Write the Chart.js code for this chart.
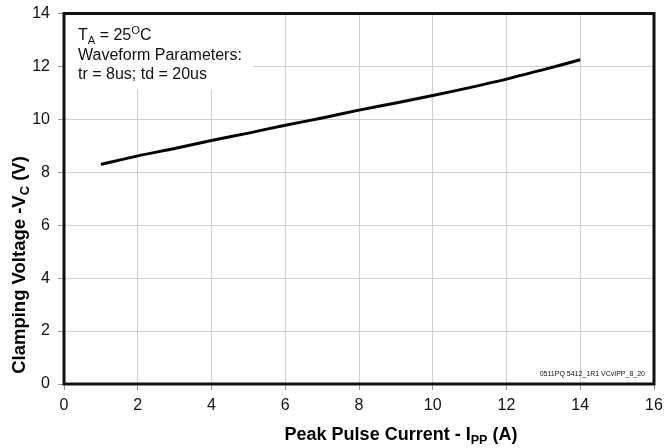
<!DOCTYPE html>
<html lang="en">
<head>
    <meta charset="UTF-8">
    <title>Clamping Voltage vs Peak Pulse Current</title>
    <style>
        body { margin: 0; background: #fff; font-family: Arial, "Liberation Sans", sans-serif; }
        .container { width: 665px; height: 448px; position: relative; }
    </style>
    <script src="https://cdn.jsdelivr.net/npm/chart.js"></script>
</head>
<body>
    <div class="container">
        <canvas id="vcChart"></canvas>
    </div>

    <script>
        // Peak pulse current (A) and clamping voltage (V)
        const peakCurrent = [1, 2, 3, 4, 5, 6, 7, 8, 9, 10, 11, 12, 13, 14];
        const clampVoltage = [8.3, 8.62, 8.9, 9.2, 9.48, 9.78, 10.05, 10.35, 10.62, 10.9, 11.2, 11.52, 11.88, 12.25];
        const xTicks = [0, 2, 4, 6, 8, 10, 12, 14, 16];
        const yTicks = [0, 2, 4, 6, 8, 10, 12, 14];

        const noteLines = [
            [{ t: 'T' }, { t: 'A', s: 'sub' }, { t: ' = 25' }, { t: 'O', s: 'sup' }, { t: 'C' }],
            [{ t: 'Waveform Parameters:' }],
            [{ t: 'tr = 8us; td = 20us' }]
        ];
        const xTitle = [{ t: 'Peak Pulse Current - I' }, { t: 'PP', s: 'sub' }, { t: ' (A)' }];
        const yTitle = [{ t: 'Clamping Voltage -V' }, { t: 'C', s: 'sub' }, { t: ' (V)' }];
        const figureCode = '0511PQ 5412_1R1 VCvIPP_8_20';

        // text with sub/superscript pieces, x is where the text starts
        function richWidth(ctx, parts, size, weight) {
            let w = 0;
            parts.forEach(p => {
                const fs = p.s ? size * 0.7 : size;
                ctx.font = weight + ' ' + fs + 'px Arial';
                w += ctx.measureText(p.t).width;
            });
            return w;
        }
        function drawRich(ctx, parts, x, y, size, weight) {
            ctx.textBaseline = 'middle';
            ctx.textAlign = 'left';
            parts.forEach(p => {
                const fs = p.s ? size * 0.7 : size;
                ctx.font = weight + ' ' + fs + 'px Arial';
                let dy = 0;
                if (p.s === 'sub') dy = size * 0.3;
                if (p.s === 'sup') dy = -size * 0.3;
                ctx.fillText(p.t, x, y + dy);
                x += ctx.measureText(p.t).width;
            });
        }

        const decorPlugin = {
            id: 'decor',
            beforeDatasetsDraw(chart) {
                const ctx = chart.ctx;
                const a = chart.chartArea;
                ctx.save();
                // white note box over the grid
                ctx.fillStyle = '#fff';
                ctx.fillRect(a.left, a.top, 189, 76);
                ctx.fillStyle = '#111';
                noteLines.forEach((line, i) => {
                    drawRich(ctx, line, a.left + 14, a.top + 22.5 + i * 19.5, 16, 'normal');
                });
                ctx.font = '7px Arial';
                ctx.textAlign = 'right';
                ctx.textBaseline = 'middle';
                ctx.fillText(figureCode, a.right - 9, a.bottom - 10);
                ctx.restore();
            },
            afterDraw(chart) {
                const ctx = chart.ctx;
                const a = chart.chartArea;
                ctx.save();
                ctx.strokeStyle = '#111';
                ctx.lineWidth = 3;
                ctx.strokeRect(a.left, a.top, a.right - a.left, a.bottom - a.top);
                ctx.fillStyle = '#000';
                const xw = richWidth(ctx, xTitle, 18, 'bold');
                drawRich(ctx, xTitle, 401 - xw / 2, 435, 18, 'bold');
                const yw = richWidth(ctx, yTitle, 18.5, 'bold');
                ctx.translate(20, 265);
                ctx.rotate(-Math.PI / 2);
                drawRich(ctx, yTitle, -yw / 2, 0, 18.5, 'bold');
                ctx.restore();
            }
        };

        new Chart(document.getElementById('vcChart'), {
            type: 'line',
            data: {
                datasets: [{
                    data: peakCurrent.map((x, i) => ({ x: x, y: clampVoltage[i] })),
                    borderColor: '#000',
                    borderWidth: 3,
                    pointRadius: 0,
                    tension: 0.25,
                    fill: false
                }]
            },
            options: {
                responsive: true,
                maintainAspectRatio: false,
                animation: false,
                layout: { padding: { top: 13.5, right: 11, left: 0, bottom: 0 } },
                plugins: { legend: { display: false }, tooltip: { enabled: false } },
                scales: {
                    x: {
                        type: 'linear',
                        min: 0,
                        max: 16,
                        afterBuildTicks: s => { s.ticks = xTicks.map(v => ({ value: v })); },
                        afterFit: s => { s.height = 64; s.paddingLeft = 0; s.paddingRight = 0; },
                        grid: { color: '#cfcfcf', lineWidth: 1, tickLength: 6, tickColor: '#999' },
                        border: { display: false },
                        ticks: { color: '#111', font: { family: 'Arial', size: 16 }, padding: 6, maxRotation: 0 }
                    },
                    y: {
                        min: 0,
                        max: 14,
                        afterBuildTicks: s => { s.ticks = yTicks.map(v => ({ value: v })); },
                        afterFit: s => { s.width = 64; s.paddingTop = 0; s.paddingBottom = 0; },
                        grid: { color: '#cfcfcf', lineWidth: 1, tickLength: 6, tickColor: '#999' },
                        border: { display: false },
                        ticks: { color: '#111', font: { family: 'Arial', size: 16 }, padding: 8 }
                    }
                }
            },
            plugins: [decorPlugin]
        });
    </script>
</body>
</html>
